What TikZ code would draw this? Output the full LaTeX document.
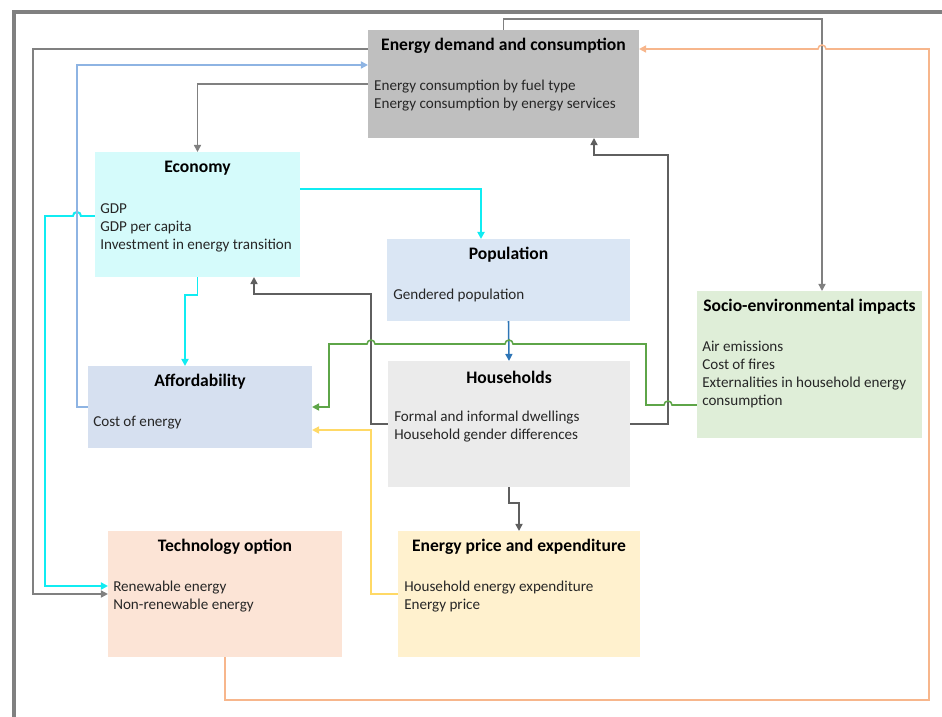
\documentclass[tikz,border=0pt]{standalone}
\usepackage{fontspec}
\setmainfont{Carlito}
\usetikzlibrary{arrows.meta,calc}

\definecolor{edfill}{HTML}{BFBFBF}
\definecolor{econfill}{HTML}{D5FBFB}
\definecolor{popfill}{HTML}{DAE6F4}
\definecolor{afffill}{HTML}{D6E0F0}
\definecolor{hhfill}{HTML}{EBEBEB}
\definecolor{sociofill}{HTML}{DFEED8}
\definecolor{techfill}{HTML}{FCE4D6}
\definecolor{pricefill}{HTML}{FFF1CE}
\definecolor{midgray}{HTML}{808080}
\definecolor{darkgray}{HTML}{5F5F5F}
\definecolor{lightblue}{HTML}{8EB4E3}
\definecolor{popblue}{HTML}{2E75B6}
\definecolor{aqua}{HTML}{10ECF2}
\definecolor{leafgreen}{HTML}{5EA548}
\definecolor{peach}{HTML}{F7B68C}
\definecolor{gold}{HTML}{FFD966}
\definecolor{bodytext}{HTML}{262626}

\newcommand\hop{arc[start angle=0,end angle=180,radius=0.1cm]}

\begin{document}
\begin{tikzpicture}[x={(0.025cm,0)}, y={(0,-0.025cm)},
  >={Triangle[length=5pt,width=5pt]},
  box/.style={inner sep=0pt, outer sep=0pt},
  title/.style={font=\bfseries\fontsize{12.5}{14}\selectfont},
  body/.style={anchor=north west, align=left, inner sep=0pt, text=bodytext, font=\fontsize{10.75}{12.8}\selectfont},
  link/.style={->, line width=1.1pt}]
\useasboundingbox (0,0) rectangle (942,717);

% outer frame
\draw [line width=2.2pt, midgray] (14,717) -- (14,12) -- (942,12);

% boxes
\node at (503.5, 84) [box, fill=edfill, minimum width=6.775cm, minimum height=2.7cm] (ed) {};
\node at (197.5, 214.5) [box, fill=econfill, minimum width=5.125cm, minimum height=3.125cm] (econ) {};
\node at (508.5, 280) [box, fill=popfill, minimum width=6.075cm, minimum height=2.05cm] (pop) {};
\node at (200, 407) [box, fill=afffill, minimum width=5.6cm, minimum height=2.05cm] (afford) {};
\node at (509, 424) [box, fill=hhfill, minimum width=6.05cm, minimum height=3.15cm] (hh) {};
\node at (809.5, 364.5) [box, fill=sociofill, minimum width=5.625cm, minimum height=3.675cm] (socio) {};
\node at (225, 594) [box, fill=techfill, minimum width=5.85cm, minimum height=3.15cm] (tech) {};
\node at (519, 594) [box, fill=pricefill, minimum width=6.05cm, minimum height=3.15cm] (price) {};

% titles
\node at ($(ed.north)+(0,16)$) [title] (ed-t) {Energy demand and consumption};
\node at ($(econ.north)+(0,16)$) [title] (econ-t) {Economy};
\node at ($(pop.north)+(0,16)$) [title] (pop-t) {Population};
\node at ($(afford.north)+(0,16)$) [title] (afford-t) {Affordability};
\node at ($(hh.north)+(0,16)$) [title] (hh-t) {Households};
\node at ($(socio.north)+(0,16)$) [title] (socio-t) {Socio-environmental impacts};
\node at ($(tech.north)+(0,16)$) [title] (tech-t) {Technology option};
\node at ($(price.north)+(0,16)$) [title] (price-t) {Energy price and expenditure};

% box contents
\node at ($(ed.north west)+(6,50)$) [body] (ed-b) {Energy consumption by fuel type\\Energy consumption by energy services};
\node at ($(econ.north west)+(5,51)$) [body] (econ-b) {GDP\\GDP per capita\\Investment in energy transition};
\node at ($(pop.north west)+(6,50)$) [body] (pop-b) {Gendered population};
\node at ($(afford.north west)+(5,50)$) [body] (afford-b) {Cost of energy};
\node at ($(hh.north west)+(6,50)$) [body] (hh-b) {Formal and informal dwellings\\Household gender differences};
\node at ($(socio.north west)+(5,50)$) [body] (socio-b) {Air emissions\\Cost of fires\\Externalities in household energy\\consumption};
\node at ($(tech.north west)+(5,50)$) [body] (tech-b) {Renewable energy\\Non-renewable energy};
\node at ($(price.north west)+(6,50)$) [body] (price-b) {Household energy expenditure\\Energy price};

% links out of energy demand
\draw [link, midgray] ($(ed.north west)+(0,19)$) -| (33,594) -- (tech.west);
\draw [link, midgray] ($(ed.north west)+(0,54)$) -| (econ.north);
\draw [link, midgray] (ed.north) -- ++(0,-11) -| ($(socio.north)+(12.5,0)$);

% links out of economy
\draw [link, aqua, line width=1.4pt] ($(econ.north east)+(0,37)$) -| ($(pop.north)+(-27.5,0)$);
\draw [link, aqua, line width=1.4pt] ($(econ.north west)+(0,64)$) -- ++(-14,0) \hop -- (45,216) |- ($(tech.west)+(0,-8)$);
\draw [link, aqua, line width=1.4pt] (econ.south) -- ++(0,18) -| ($(afford.north)+(-15,0)$);

% links out of affordability, population
\draw [link, lightblue] (afford.west) -- ++(-11,0) |- ($(ed.north west)+(0,35)$);
\draw [link, popblue] (pop.south) -- (hh.north);

% links out of households
\draw [link, darkgray] (hh.west) -- ++(-17,0) -- ++(0,-130) -| ($(econ.south)+(56.5,0)$);
\draw [link, darkgray] (hh.east) -- ++(38,0) -- ++(0,-269) -| ($(ed.south)+(90.5,0)$);
\draw [link, darkgray] (hh.south) -- ++(0,16) -| (price.north);

% links back to affordability
\draw [link, leafgreen] ($(socio.west)+(0,40.5)$) -- (672,405) \hop -- (646,405) -- (646,344)
  -- (513,344) \hop -- (375,344) \hop -- (329,344) |- (afford.east);
\draw [link, gold] (price.west) -- ++(-27,0) |- ($(afford.east)+(0,23)$);

% technology back to demand
\draw [link, peach] (tech.south) |- (929,700) -- (929,49) -- (826,49) \hop -- ($(ed.north east)+(0,19)$);
\end{tikzpicture}
\end{document}
